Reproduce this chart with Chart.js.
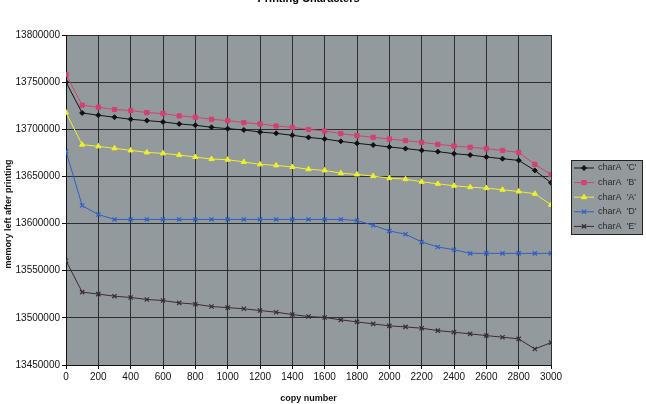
<!DOCTYPE html>
<html>
<head>
<meta charset="utf-8">
<script src="https://cdn.jsdelivr.net/npm/chart.js@4.4.0/dist/chart.umd.min.js"></script>
<style>
  html, body { margin: 0; padding: 0; background: #fff; }
  #wrap { width: 646px; height: 404px; }
</style>
</head>
<body>
<div id="wrap"><canvas id="chart" width="646" height="404"></canvas></div>
<script>
// copy numbers on the x axis
const copyNumbers = [0, 100, 200, 300, 400, 500, 600, 700, 800, 900, 1000, 1100, 1200, 1300, 1400, 1500,
  1600, 1700, 1800, 1900, 2000, 2100, 2200, 2300, 2400, 2500, 2600, 2700, 2800, 2900, 3000];

const charC = [13750000, 13717300, 13714900, 13712800, 13710600, 13709200, 13707800, 13705700, 13704300, 13702100,
  13700700, 13699300, 13697100, 13695700, 13693600, 13691400, 13689700, 13687200, 13685100, 13683300,
  13681200, 13679500, 13677600, 13676300, 13674100, 13672700, 13670600, 13668800, 13667000, 13656400, 13643300];
const charB = [13758000, 13725500, 13723400, 13721000, 13719900, 13717700, 13716700, 13714200, 13712800, 13710600,
  13709200, 13707100, 13705700, 13703500, 13702100, 13699800, 13698200, 13695400, 13693300, 13691500,
  13689700, 13688000, 13686200, 13684000, 13682300, 13680900, 13679500, 13677600, 13675500, 13662800, 13652100];
const charA = [13717700, 13683700, 13681900, 13679800, 13677600, 13675500, 13674500, 13672700, 13670600, 13668400,
  13667800, 13665300, 13662800, 13661700, 13660000, 13657600, 13656400, 13653500, 13652100, 13650400,
  13648200, 13647100, 13644300, 13642200, 13640100, 13638600, 13637600, 13635900, 13634000, 13631600, 13619900];
const charD = [13676600, 13619100, 13609600, 13604400, 13604400, 13604400, 13604400, 13604400, 13604400, 13604400,
  13604400, 13604400, 13604400, 13604400, 13604400, 13604400, 13604400, 13604400, 13603200, 13598200,
  13592200, 13588700, 13580500, 13575200, 13572300, 13568400, 13568400, 13568400, 13568400, 13568400, 13568400];
const charE = [13560600, 13527300, 13525200, 13523000, 13521600, 13519500, 13518400, 13515900, 13514500, 13512000,
  13510900, 13509600, 13507800, 13506000, 13503500, 13501400, 13500400, 13497900, 13495700, 13493600,
  13491500, 13490400, 13489000, 13486500, 13484800, 13483000, 13481200, 13479500, 13477700, 13467000, 13473700];

const seriesLabels = ["charA  'C'", "charA  'B'", "charA  'A'", "charA  'D'", "charA  'E'"];
const yTicks = [13450000, 13500000, 13550000, 13600000, 13650000, 13700000, 13750000, 13800000];

const plotGrey = '#939a9e';
const font = "'Liberation Sans', Arial, sans-serif";

const styles = [
  { color: '#111111', point: 'rectRot', radius: 2.5 },
  { color: '#d4416f', point: 'rect', radius: 3 },
  { color: '#eef02a', point: 'triangle', radius: 3 },
  { color: '#2f5fc4', point: 'crossRot', radius: 3 },
  { color: '#3a2a3a', point: 'crossRot', radius: 3 }
];

const makeDataset = (label, values, st) => ({
  label,
  data: copyNumbers.map((x, i) => ({ x, y: values[i] })),
  borderColor: st.color,
  backgroundColor: st.color,
  borderWidth: 1,
  pointStyle: st.point,
  pointRadius: st.radius,
  pointBorderWidth: st.point === 'crossRot' ? 1.2 : 1,
  pointBorderColor: st.color,
  pointBackgroundColor: st.color,
  tension: 0
});

const datasets = [charC, charB, charA, charD, charE].map((v, i) => makeDataset(seriesLabels[i], v, styles[i]));

// grey plot background, header title (cut off at the top like the scan) and y title
const backgroundPlugin = {
  id: 'plotBackground',
  beforeDraw(chart) {
    const { ctx, chartArea: a } = chart;
    ctx.save();
    ctx.fillStyle = plotGrey;
    ctx.fillRect(a.left, a.top, a.right - a.left, a.bottom - a.top);
    ctx.fillStyle = '#000';
    ctx.font = 'bold 11px ' + font;
    ctx.textAlign = 'center';
    ctx.textBaseline = 'alphabetic';
    ctx.fillText('Printing Characters', (a.left + a.right) / 2, 2);
    // y axis title sits a bit below the middle in the original
    ctx.translate(9, 214);
    ctx.rotate(-Math.PI / 2);
    ctx.font = 'bold 9px ' + font;
    ctx.fillStyle = '#111';
    ctx.textBaseline = 'middle';
    ctx.fillText('memory left after printing', 0, 0);
    ctx.restore();
  }
};

// Excel-like legend box on the right
const legendPlugin = {
  id: 'boxLegend',
  afterDraw(chart) {
    const { ctx } = chart;
    const left = chart.chartArea.right + 20;
    const top = 160, w = 71, h = 74, rowH = 14.6;
    ctx.save();
    ctx.fillStyle = plotGrey;
    ctx.strokeStyle = '#222';
    ctx.lineWidth = 1;
    ctx.fillRect(left, top, w, h);
    ctx.strokeRect(left + 0.5, top + 0.5, w, h);
    chart.data.datasets.forEach((ds, i) => {
      const y = top + 8 + i * rowH;
      ctx.strokeStyle = ds.borderColor;
      ctx.fillStyle = ds.borderColor;
      ctx.lineWidth = 1;
      ctx.beginPath();
      ctx.moveTo(left + 3, y);
      ctx.lineTo(left + 23, y);
      ctx.stroke();
      ctx.lineWidth = ds.pointBorderWidth;
      Chart.helpers.drawPoint(ctx, {
        pointStyle: ds.pointStyle,
        radius: ds.pointRadius,
        borderWidth: ds.pointBorderWidth,
        rotation: 0
      }, left + 13, y);
      ctx.fillStyle = '#2a2a2a';
      ctx.font = '9px ' + font;
      ctx.textAlign = 'left';
      ctx.textBaseline = 'middle';
      ctx.fillText(ds.label, left + 27, y);
    });
    ctx.restore();
  }
};

new Chart(document.getElementById('chart'), {
  type: 'line',
  data: { datasets },
  options: {
    responsive: false,
    animation: false,
    layout: { padding: { top: 35, right: 95, bottom: 0, left: 0 } },
    plugins: {
      legend: { display: false },
      title: { display: false },
      tooltip: { enabled: false }
    },
    scales: {
      x: {
        type: 'linear',
        min: 0,
        max: 3000,
        afterFit: (s) => { s.height = 39; },
        ticks: {
          stepSize: 200,
          color: '#111',
          font: { family: font, size: 10 },
          padding: 2,
          maxRotation: 0,
          callback: (v) => String(v)
        },
        grid: { color: '#2b2f31', lineWidth: 1, tickLength: 4, tickColor: '#111' },
        border: { color: '#111', width: 1 },
        title: {
          display: true,
          text: 'copy number',
          color: '#111',
          font: { family: font, size: 9, weight: 'bold' },
          padding: { top: 1, bottom: 0 }
        }
      },
      y: {
        min: 13450000,
        max: 13800000,
        afterFit: (s) => { s.width = 66; },
        afterBuildTicks: (s) => { s.ticks = yTicks.map(v => ({ value: v })); },
        ticks: {
          color: '#111',
          font: { family: font, size: 10 },
          padding: 2,
          callback: (v) => String(v)
        },
        grid: { color: '#2b2f31', lineWidth: 1, tickLength: 4, tickColor: '#111' },
        border: { color: '#111', width: 1 },
        title: { display: false }
      }
    }
  },
  plugins: [backgroundPlugin, legendPlugin]
});
</script>
</body>
</html>
